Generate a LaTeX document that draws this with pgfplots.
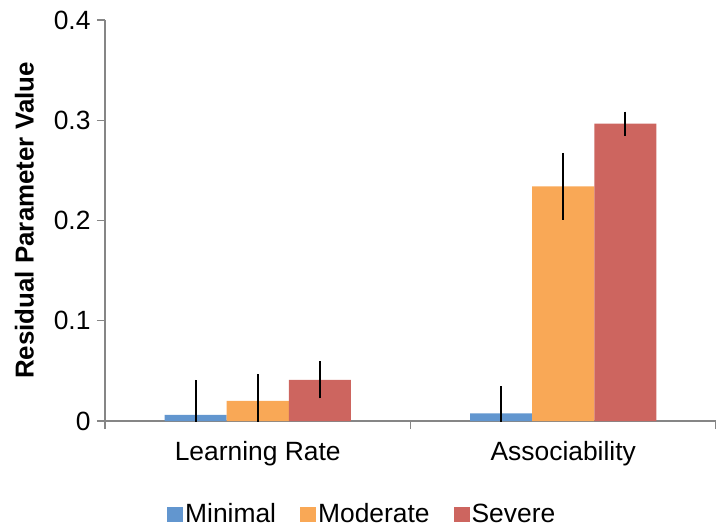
\documentclass[border=0pt]{standalone}
\usepackage{pgfplots}
\pgfplotsset{compat=1.18}
\usepackage{fontspec}
\setmainfont{Liberation Sans}
\definecolor{cmin}{RGB}{98,150,207}
\definecolor{cmod}{RGB}{249,168,86}
\definecolor{csev}{RGB}{205,101,95}
\definecolor{axgray}{RGB}{134,134,134}
\begin{document}
\begin{tikzpicture}
\begin{axis}[
  name=main,
  scale only axis, width=611bp, height=401bp,
  ymin=0, ymax=0.4, xmin=-0.5, xmax=1.5,
  ybar, bar width=0.203,
  axis lines=left,
  axis line style={-, axgray, line width=1.2bp},
  every tick/.style={axgray, line width=1.2bp},
  tick align=outside,
  ytick={0,0.1,0.2,0.3,0.4},
  major tick length=8bp,
  yticklabel style={/pgf/number format/fixed, font=\fontsize{26.5}{30}\selectfont, xshift=-3bp},
  /pgf/number format/assume math mode=true,
  xtick={-0.5,0.5,1.5}, xticklabels={},
  extra x ticks={0,1}, extra x tick labels={Learning Rate, Associability},
  extra x tick style={major tick length=0pt, tick style={draw=none}},
  xticklabel style={font=\fontsize{26.5}{30}\selectfont, yshift=-17bp},
  ylabel={Residual Parameter Value},
  ylabel style={at={(axis description cs:-0.132,0.5)}, anchor=center, font=\bfseries\fontsize{26}{30}\selectfont},
  legend columns=3,
  legend style={draw=none, fill=none, at={(axis description cs:0.421,-0.232)}, anchor=center,
    font=\fontsize{26.5}{30}\selectfont, /tikz/every even column/.append style={column sep=22bp}},
  legend image code/.code={\fill[#1,draw=none] (-3bp,-7.5bp) rectangle (13bp,7.5bp);},
  error bars/y dir=both, error bars/y explicit,
  error bars/error mark=none,
  error bars/error bar style={black, line width=2.2bp},
]
\addplot+[fill=cmin, draw=none, bar shift=-0.203] coordinates {(0,0.006) +- (0,0.035) (1,0.0075) +- (0,0.027)};
\addplot+[fill=cmod, draw=none, bar shift=0] coordinates {(0,0.020) +- (0,0.027) (1,0.234) +- (0,0.0335)};
\addplot+[fill=csev, draw=none, bar shift=0.203] coordinates {(0,0.041) +- (0,0.0185) (1,0.2967) +- (0,0.012)};
\legend{Minimal, Moderate, Severe}
\end{axis}
\pgfresetboundingbox
\path (main.south west) ++(-105bp,-108bp) rectangle ++(716bp,529bp);
\end{tikzpicture}
\end{document}
